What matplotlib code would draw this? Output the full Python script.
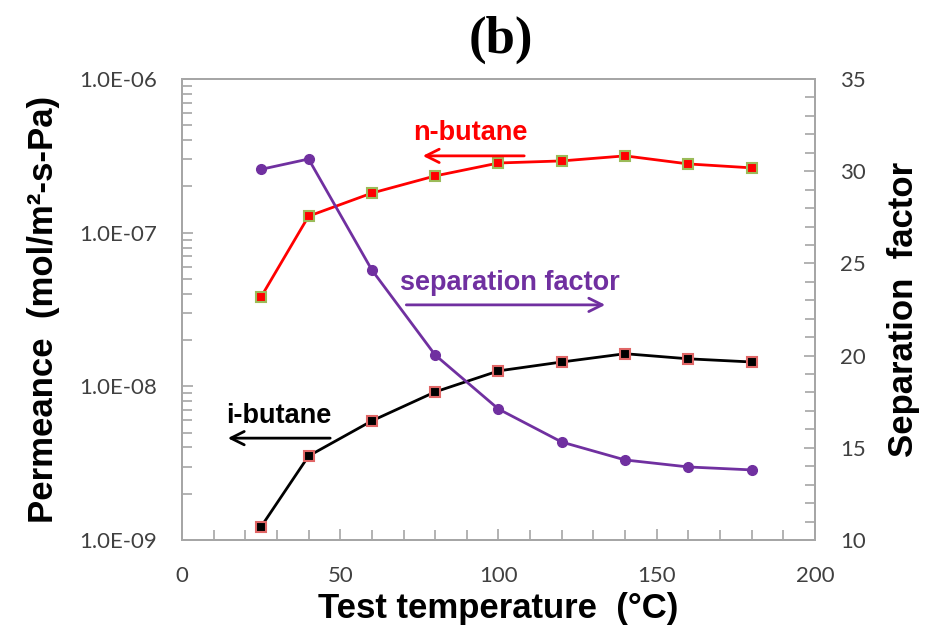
import numpy as np
import matplotlib
matplotlib.use("Agg")
import matplotlib.pyplot as plt
from matplotlib.ticker import FixedLocator, MultipleLocator, LogLocator, NullFormatter


# ============================================================
# Data
# ============================================================

temperature = [25, 40, 60, 80, 100, 120, 140, 160, 180]

n_butane = [3.82e-8, 1.28e-7, 1.81e-7, 2.34e-7, 2.84e-7, 2.93e-7, 3.16e-7, 2.80e-7, 2.64e-7]
i_butane = [1.22e-9, 3.52e-9, 5.96e-9, 9.2e-9, 1.26e-8, 1.44e-8, 1.63e-8, 1.51e-8, 1.44e-8]
sep_factor = [30.1, 30.66, 24.64, 20.03, 17.1, 15.31, 14.34, 13.96, 13.8]

left_ticks = [1e-9, 1e-8, 1e-7, 1e-6]
left_labels = ["1.0E-09", "1.0E-08", "1.0E-07", "1.0E-06"]


# ============================================================
# Style
# ============================================================

SPINE = "#a6a6a6"
TICK_TXT = "#404040"
PURPLE = "#7030a0"
TICK_FONT = "Lato"
LABEL_FONT = "Liberation Sans"

fig = plt.figure(figsize=(9.27, 6.37), dpi=100)
ax = fig.add_axes([0.1963, 0.1523, 0.6829, 0.7237])
ax2 = ax.twinx()


# ============================================================
# Lines
# ============================================================

ax.plot(temperature, n_butane, color="#ff0000", lw=2, marker="s", ms=6.5,
        mfc="#ff0000", mec="#9bbb59", mew=1.5, zorder=3)
ax.plot(temperature, i_butane, color="black", lw=2, marker="s", ms=6.5,
        mfc="black", mec="#e06666", mew=1.5, zorder=3)
ax2.plot(temperature, sep_factor, color=PURPLE, lw=2, marker="o", ms=7,
         mfc=PURPLE, mec=PURPLE, zorder=3)


# ============================================================
# Axes
# ============================================================

ax.set_xlim(0, 200)
ax.set_yscale("log")
ax.set_ylim(1e-9, 1e-6)
ax2.set_ylim(10, 35)

ax.xaxis.set_major_locator(MultipleLocator(50))
ax.xaxis.set_minor_locator(MultipleLocator(10))
ax.yaxis.set_major_locator(FixedLocator(left_ticks))
ax.set_yticklabels(left_labels)
ax.yaxis.set_minor_locator(LogLocator(base=10, subs=np.arange(2, 10)))
ax.yaxis.set_minor_formatter(NullFormatter())
ax2.yaxis.set_major_locator(MultipleLocator(5))
ax2.yaxis.set_minor_locator(MultipleLocator(1))

for a in (ax, ax2):
    for s in a.spines.values():
        s.set_color(SPINE)
        s.set_linewidth(1.3)
    a.tick_params(which="both", direction="in", color=SPINE, width=1.2)
    a.tick_params(which="major", length=8)
    a.tick_params(which="minor", length=7)

ax.tick_params(axis="x", which="both", top=False, labelsize=16,
               labelcolor=TICK_TXT, pad=19)
ax.tick_params(axis="y", which="both", right=False, labelsize=16,
               labelcolor=TICK_TXT, pad=18)
ax2.tick_params(axis="y", which="both", labelsize=16, labelcolor=TICK_TXT, pad=18)

for lab in ax.get_xticklabels() + ax.get_yticklabels() + ax2.get_yticklabels():
    lab.set_fontfamily(TICK_FONT)

ax.set_xlabel("Test temperature  (°C)", fontsize=25, fontweight="bold",
              family=LABEL_FONT, labelpad=4)
ax.set_ylabel("Permeance  (mol/m²-s-Pa)", fontsize=25, fontweight="bold",
              family=LABEL_FONT, labelpad=14)
ax2.set_ylabel("Separation  factor", fontsize=25, fontweight="bold",
               family=LABEL_FONT, labelpad=15)

fig.text(0.540, 0.937, "(b)", ha="center", va="center", fontsize=38,
         fontweight="bold", family="Liberation Serif")


# ============================================================
# Annotations
# ============================================================

arrow = dict(arrowstyle="->", mutation_scale=24, lw=2)

ax.annotate("", xy=(75.2, 3.16e-7), xytext=(109, 3.16e-7),
            arrowprops=dict(arrow, color="#ff0000"))
ax.text(91, 4.46e-7, "n-butane", color="#ff0000", fontsize=19.5,
        fontweight="bold", family=LABEL_FONT, ha="center", va="center")

ax.annotate("", xy=(13.6, 4.6e-9), xytext=(47.7, 4.6e-9),
            arrowprops=dict(arrow, color="black"))
ax.text(30.6, 6.4e-9, "i-butane", color="black", fontsize=19.5,
        fontweight="bold", family=LABEL_FONT, ha="center", va="center")

ax2.annotate("", xy=(134.6, 22.75), xytext=(70, 22.75),
             arrowprops=dict(arrow, color=PURPLE))
ax2.text(103.6, 23.95, "separation factor", color=PURPLE, fontsize=19.5,
         fontweight="bold", family=LABEL_FONT, ha="center", va="center")

fig.savefig("out.png", dpi=100)
